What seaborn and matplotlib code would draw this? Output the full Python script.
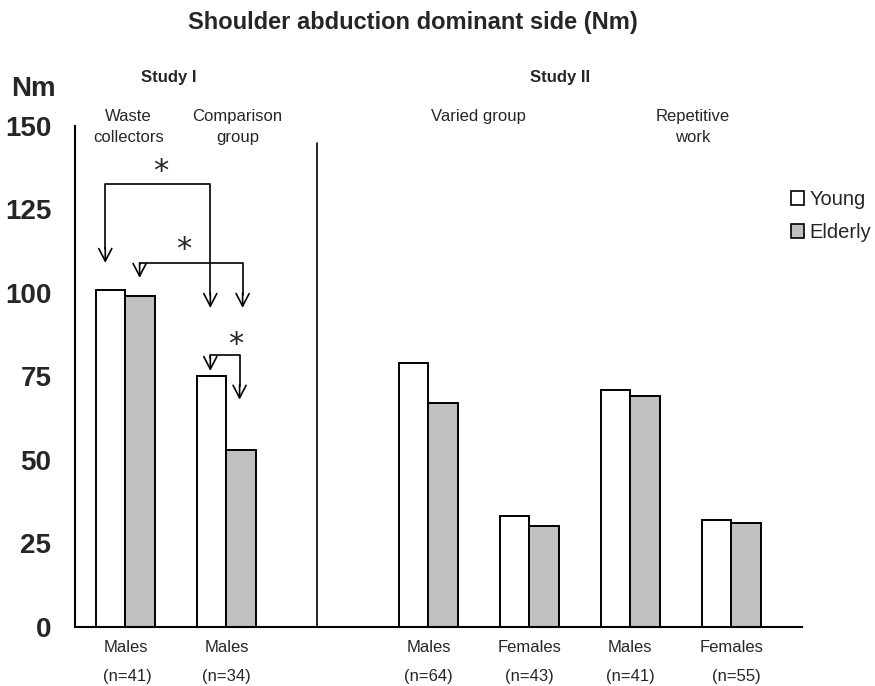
import matplotlib
matplotlib.use("Agg")
import matplotlib.pyplot as plt
from matplotlib import font_manager
from matplotlib.patches import Patch
import seaborn as sns
import pandas as pd

# ---- data ----
groups = ["WC_M", "CG_M", "gap", "VG_M", "VG_F", "RW_M", "RW_F"]
bar_groups = ["WC_M", "CG_M", "VG_M", "VG_F", "RW_M", "RW_F"]
young = [101, 75, 79, 33, 71, 32]
elderly = [99, 53, 67, 30, 69, 31]
sex_labels = ["Males", "Males", "Males", "Females", "Males", "Females"]
n_labels = ["(n=41)", "(n=34)", "(n=64)", "(n=43)", "(n=41)", "(n=55)"]
yticks = [0, 25, 50, 75, 100, 125, 150]

df = pd.DataFrame({
    "group": bar_groups * 2,
    "age": ["Young"] * len(bar_groups) + ["Elderly"] * len(bar_groups),
    "Nm": young + elderly,
})

sns.set_style("white")
names = {f.name for f in font_manager.fontManager.ttflist}
fam = "Liberation Sans Narrow" if "Liberation Sans Narrow" in names else "Liberation Sans"
plt.rcParams["font.family"] = [fam, "DejaVu Sans"]

fig = plt.figure(figsize=(8.75, 6.86), dpi=100)
ax = fig.add_axes([0.0857, 0.0867, 0.8309, 0.7296])

sns.barplot(data=df, x="group", y="Nm", hue="age", order=groups,
            hue_order=["Young", "Elderly"],
            palette={"Young": "white", "Elderly": "#c0c0c0"},
            width=0.58, gap=0, edgecolor="black", linewidth=1.4,
            legend=False, ax=ax)

ax.set_xlim(-0.5, 6.7)
ax.set_ylim(0, 150)
ax.set_yticks(yticks)
ax.set_yticklabels([str(v) for v in yticks], fontsize=20, fontweight="bold")
ax.set_xticks([])
ax.set_xlabel("")
ax.set_ylabel("")
for s in ["top", "right"]:
    ax.spines[s].set_visible(False)
for s in ["left", "bottom"]:
    ax.spines[s].set_color("black")
    ax.spines[s].set_linewidth(1.5)
ax.tick_params(axis="y", direction="out", length=9, width=1.3, color="black", pad=8)

# divider between the two studies
ax.plot([1.9, 1.9], [0, 145], color="black", lw=1.2, clip_on=False)

# category labels under the axis
xpos = [0, 1, 3, 4, 5, 6]
n_shift = [0.02, 0, 0, 0, 0, 0.05]
tr = ax.get_xaxis_transform()
for x, s, n, dx in zip(xpos, sex_labels, n_labels, n_shift):
    ax.text(x, -0.041, s, transform=tr, ha="center", va="center", fontsize=12)
    ax.text(x + dx, -0.099, n, transform=tr, ha="center", va="center", fontsize=12)

# headers
ax.text(-0.91, 1.074, "Nm", transform=tr, fontsize=20, fontweight="bold",
        ha="center", va="center", clip_on=False)
ax.text(0.43, 1.097, "Study I", transform=tr, fontsize=12, fontweight="bold",
        ha="center", va="center")
ax.text(4.3, 1.097, "Study II", transform=tr, fontsize=12, fontweight="bold",
        ha="center", va="center")

line1, line2 = 1.020, 0.978
ax.text(0.03, line1, "Waste", transform=tr, fontsize=12, ha="center", va="center")
ax.text(0.03, line2, "collectors", transform=tr, fontsize=12, ha="center", va="center")
ax.text(1.11, line1, "Comparison", transform=tr, fontsize=12, ha="center", va="center")
ax.text(1.11, line2, "group", transform=tr, fontsize=12, ha="center", va="center")
ax.text(3.5, line1, "Varied group", transform=tr, fontsize=12, ha="center", va="center")
ax.text(5.62, line1, "Repetitive", transform=tr, fontsize=12, ha="center", va="center")
ax.text(5.62, line2, "work", transform=tr, fontsize=12, ha="center", va="center")

fig.text(0.4714, 0.9665, "Shoulder abduction dominant side (Nm)", fontsize=17,
         fontweight="bold", ha="center", va="center")

# significance brackets with open arrowheads
def bracket(x1, x2, yh, y1, y2, xs, ys):
    ax.plot([x1, x1, x2, x2], [y1 + 4, yh, yh, y2 + 4], color="black", lw=1.2)
    for x, yt in [(x1, y1), (x2, y2)]:
        ax.annotate("", xy=(x, yt), xytext=(x, yt + 4.5),
                    arrowprops=dict(arrowstyle="->,head_length=0.9,head_width=0.47",
                                    color="black", lw=1.2, shrinkA=0, shrinkB=0))
    ax.text(xs, ys, "*", fontsize=22, ha="center", va="center",
            family="DejaVu Sans")

bracket(-0.2, 0.84, 132.5, 109, 95.5, 0.35, 136.5)
bracket(0.14, 1.16, 108.9, 104.5, 95.5, 0.58, 113)
bracket(0.84, 1.13, 81.3, 76.6, 68, 1.09, 84.5)

handles = [Patch(facecolor="white", edgecolor="black", lw=1.2, label="Young"),
           Patch(facecolor="#c0c0c0", edgecolor="black", lw=1.2, label="Elderly")]
fig.legend(handles=handles, loc="center left", bbox_to_anchor=(0.9037, 0.685),
           frameon=False, fontsize=14.5, handlelength=0.65, handleheight=0.65,
           handletextpad=0.3, labelspacing=0.7, borderaxespad=0, borderpad=0)

fig.savefig("out.png", dpi=100)
